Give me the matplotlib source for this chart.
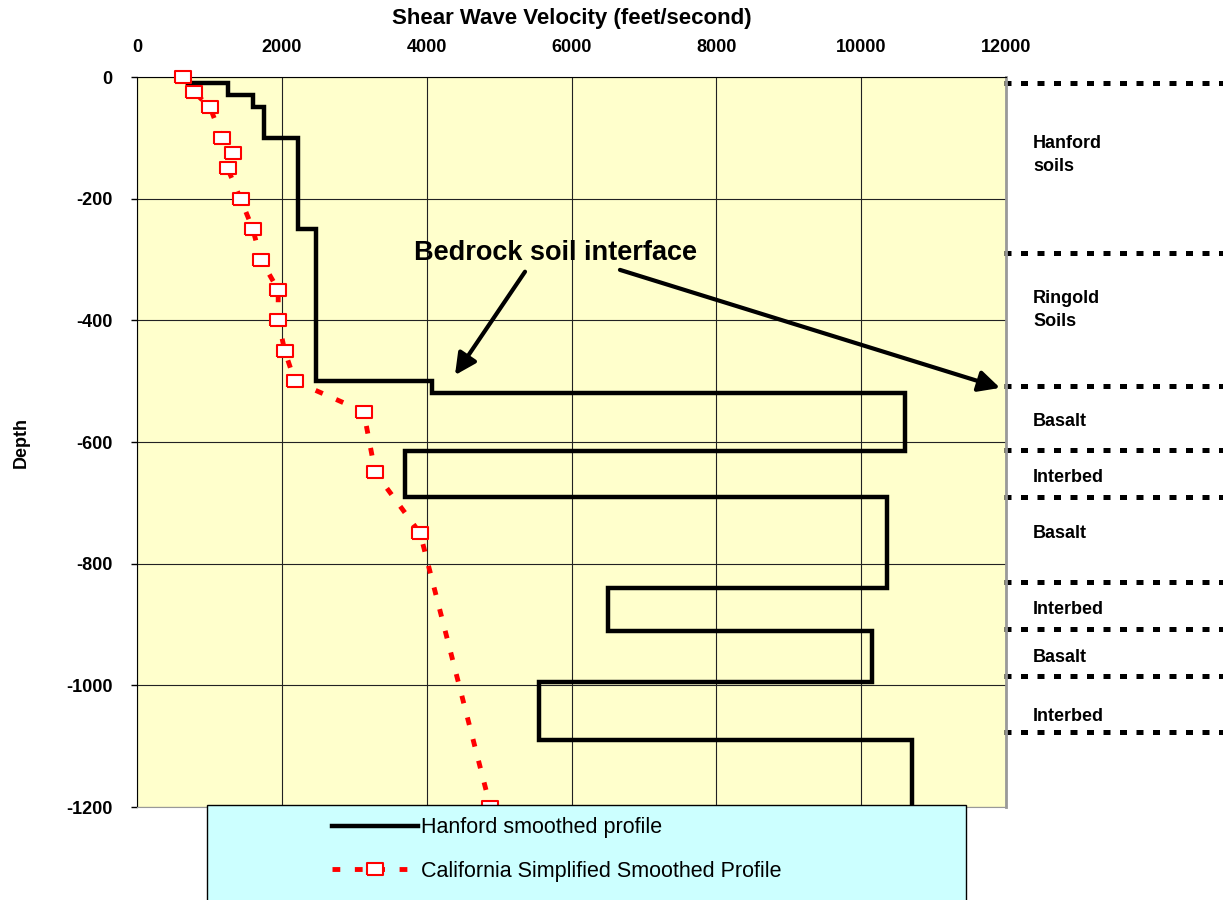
import numpy as np
import matplotlib
matplotlib.use("Agg")
from matplotlib import pyplot as plt
from matplotlib.patches import Rectangle
import matplotlib.transforms as mtransforms

plt.rcParams['font.family'] = ['Liberation Sans', 'DejaVu Sans']
plt.rcParams['font.weight'] = 'bold'
plt.rcParams['axes.unicode_minus'] = False

#Hanford smoothed profile: layer boundaries (ft) and velocity of each layer (ft/s)
hanford_depth = [0, -10, -30, -50, -100, -250, -500, -520, -615, -690, -840, -910, -995, -1090, -1200]
hanford_vs = [700, 1250, 1600, 1750, 2230, 2470, 4080, 10600, 3700, 10350, 6500, 10150, 5550, 10700]

#California simplified smoothed profile
calif_depth = [0, -25, -50, -100, -125, -150, -200, -250, -300, -350, -400, -450, -500, -550, -650, -750, -1200]
calif_vs = [630, 790, 1010, 1170, 1330, 1250, 1430, 1600, 1710, 1950, 1950, 2040, 2180, 3130, 3290, 3910, 4880]

#Geologic units drawn to the right of the plot
boundary_depth = [-10, -289, -508, -613, -690, -830, -908, -985, -1076]
unit_names = ['Hanford\nsoils', 'Ringold\nSoils', 'Basalt', 'Interbed', 'Basalt', 'Interbed', 'Basalt', 'Interbed']
unit_depth = [-128, -383, -567, -659, -750, -876, -955, -1052]

x_ticks = [0, 2000, 4000, 6000, 8000, 10000, 12000]
y_ticks = [0, -200, -400, -600, -800, -1000, -1200]

#%%
fig = plt.figure(figsize=(12.23, 9), dpi=100)
ax = fig.add_axes([0.112, 0.1033, 0.7106, 0.8111])
ax.set_facecolor('#FFFFCC')

#Step line for Hanford profile
step_y = np.repeat(hanford_depth, 2)[1:-1]
step_x = np.repeat(hanford_vs, 2)
ax.plot(step_x, step_y, color='black', lw=3.2, solid_joinstyle='miter',
        label='Hanford smoothed profile', zorder=3)

#California profile, open rectangles
rect = [(-1, -0.75), (1, -0.75), (1, 0.75), (-1, 0.75), (-1, -0.75)]
ax.plot(calif_vs, calif_depth, color='red', lw=3.5, linestyle=(0, (1.6, 3.0)),
        marker=rect, ms=12, mfc='white', mec='red', mew=1.5,
        label='California Simplified Smoothed Profile', zorder=4, clip_on=False)

#Axes formatting
ax.set_xlim(0, 12000)
ax.set_ylim(-1200, 0)
ax.set_xticks(x_ticks)
ax.set_yticks(y_ticks)
ax.xaxis.tick_top()
ax.xaxis.set_label_position('top')
ax.tick_params(axis='x', length=0, pad=15, labelsize=13)
ax.tick_params(axis='y', length=4.5, width=1, pad=13, labelsize=13)
ax.grid(True, color='#222222', lw=0.8)
ax.set_axisbelow(True)
ax.set_xlabel('Shear Wave Velocity (feet/second)', fontsize=16, fontweight='bold', labelpad=11)
ax.set_ylabel('Depth', fontsize=13, fontweight='bold', labelpad=26)
ax.spines['left'].set_color('black')
ax.spines['top'].set_color('black')
ax.spines['right'].set_color('#999999')
ax.spines['right'].set_linewidth(2)
ax.spines['bottom'].set_color('#999999')

#Bedrock annotation
ax.text(5780, -289, 'Bedrock soil interface', ha='center', va='center', fontsize=19.5)
arrow = dict(arrowstyle='-|>', lw=3, color='black', mutation_scale=32, shrinkA=0, shrinkB=0)
ax.annotate('', xy=(4391, -490), xytext=(5358, -320), arrowprops=arrow)
ax.annotate('', xy=(11917, -511), xytext=(6669, -317), arrowprops=arrow, annotation_clip=False)

#Geologic boundaries at right
trans = mtransforms.blended_transform_factory(ax.transAxes, ax.transData)
for d in boundary_depth:
    ax.plot([0.998, 1.26], [d, d], transform=trans, clip_on=False, color='black',
            lw=3.6, linestyle=(0, (1.4, 1.9)), dash_capstyle='butt')
for name, d in zip(unit_names, unit_depth):
    ax.text(1.031, d, name, transform=trans, ha='left', va='center', fontsize=13,
            linespacing=1.45)

#Legend box
box = Rectangle((207 / 1223, -0.01), (966 - 207) / 1223, 95 / 900 + 0.01,
                transform=fig.transFigure, facecolor='#CCFFFF', edgecolor='black', lw=1)
fig.patches.append(box)
handles, labels = ax.get_legend_handles_labels()
fig.legend(handles, labels, loc='center left', bbox_to_anchor=(0.2555, 0.0561),
           frameon=False, prop={'weight': 'normal', 'size': 15.5},
           handlelength=4.0, handletextpad=0.15, labelspacing=1.05, numpoints=1)

plt.savefig('out.png', dpi=100)
